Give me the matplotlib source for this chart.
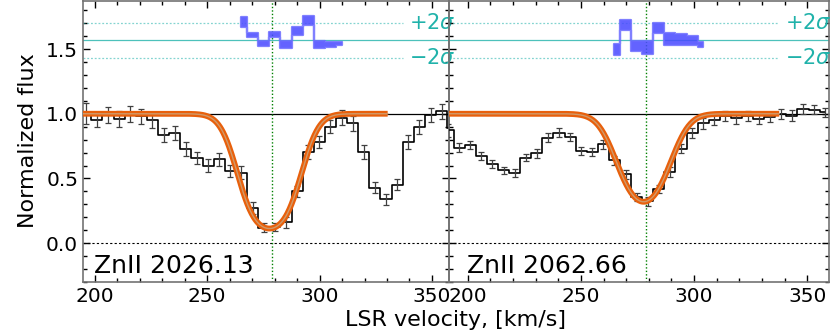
import numpy as np
import matplotlib
matplotlib.use('Agg')
from matplotlib import pyplot as plt
from matplotlib.ticker import MultipleLocator

plt.rcParams['mathtext.fontset'] = 'dejavusans'

# ZnII 2026.13 spectrum (velocity, flux, 1-sigma error)
vel_2026 = [191.0, 195.9, 200.9, 205.8, 210.8, 215.7, 220.7, 225.6, 230.6, 235.5,
            240.5, 245.4, 250.4, 255.3, 260.3, 265.2, 270.2, 275.1, 280.1, 285.0,
            290.0, 294.9, 299.9, 304.8, 309.8, 314.7, 319.7, 324.6, 329.6, 334.5,
            339.5, 344.4, 349.4, 354.3, 359.3]
flux_2026 = [0.98, 1.00, 0.95, 0.99, 0.96, 1.00, 0.98, 0.95, 0.835, 0.855,
             0.73, 0.655, 0.60, 0.65, 0.556, 0.546, 0.273, 0.12, 0.125, 0.16,
             0.40, 0.705, 0.78, 0.90, 0.97, 0.925, 0.705, 0.43, 0.34, 0.45,
             0.78, 0.90, 0.99, 1.02, 0.89]
err_2026 = [0.06, 0.08, 0.05, 0.062, 0.064, 0.062, 0.06, 0.062, 0.057, 0.054,
            0.054, 0.046, 0.048, 0.05, 0.048, 0.048, 0.046, 0.032, 0.03, 0.039,
            0.045, 0.054, 0.046, 0.05, 0.058, 0.055, 0.054, 0.042, 0.042, 0.042,
            0.054, 0.055, 0.054, 0.058, 0.055]

# ZnII 2062.66 spectrum
vel_2062 = [191.3, 196.2, 201.1, 206.0, 210.9, 215.8, 220.7, 225.6, 230.5, 235.4,
            240.3, 245.2, 250.1, 255.0, 259.9, 264.8, 269.7, 274.6, 279.5, 284.4,
            289.3, 294.2, 299.1, 304.0, 308.9, 313.8, 318.7, 323.6, 328.5, 333.4,
            338.3, 343.2, 348.1, 353.0, 357.9]
flux_2062 = [0.873, 0.737, 0.757, 0.675, 0.61, 0.564, 0.543, 0.66, 0.693, 0.814,
             0.855, 0.82, 0.71, 0.705, 0.765, 0.64, 0.533, 0.358, 0.325, 0.42,
             0.55, 0.73, 0.85, 0.925, 0.95, 0.985, 0.965, 0.985, 0.96, 0.975,
             1.00, 0.985, 1.04, 1.03, 1.01]
err_2062 = [0.05, 0.035, 0.031, 0.032, 0.03, 0.028, 0.03, 0.028, 0.033, 0.035,
            0.032, 0.033, 0.032, 0.031, 0.035, 0.033, 0.036, 0.03, 0.035, 0.031,
            0.039, 0.035, 0.039, 0.039, 0.039, 0.039, 0.042, 0.039, 0.039, 0.039,
            0.039, 0.041, 0.039, 0.034, 0.032]

# residuals (shifted to the residual panel level)
res_vel_2026 = [265.2, 270.2, 275.1, 280.1, 285.0, 290.0, 294.9, 299.9, 304.8, 309.8]
res_2026 = [1.71, 1.61, 1.545, 1.615, 1.535, 1.64, 1.72, 1.537, 1.535, 1.545]
res_err_2026 = [0.04, 0.016, 0.019, 0.02, 0.029, 0.033, 0.037, 0.026, 0.016, 0.01]

res_vel_2062 = [264.8, 269.7, 274.6, 279.5, 284.4, 289.3, 294.2, 299.1, 304.0]
res_2062 = [1.495, 1.685, 1.52, 1.513, 1.661, 1.578, 1.572, 1.564, 1.534]
res_err_2062 = [0.044, 0.039, 0.039, 0.048, 0.039, 0.044, 0.044, 0.034, 0.02]

# single-component fit
v_center = 277.7
b_param = 12.7
tau0_2026 = 2.18
tau0_2062 = 1.14
fit_range_2026 = (194.0, 330.3)
fit_range_2062 = (191.0, 337.6)

res_level = 1.568
res_sigma2 = 0.135
v_marker = 278.8

panels = [
    dict(name='ZnII 2026.13', vel=vel_2026, flux=flux_2026, err=err_2026,
         rvel=res_vel_2026, res=res_2026, rerr=res_err_2026, tau0=tau0_2026,
         frange=fit_range_2026, xlim=(194.7, 357.6)),
    dict(name='ZnII 2062.66', vel=vel_2062, flux=flux_2062, err=err_2062,
         rvel=res_vel_2062, res=res_2062, rerr=res_err_2062, tau0=tau0_2062,
         frange=fit_range_2062, xlim=(191.7, 359.6)),
]

fig = plt.figure(figsize=(8.3, 3.32), dpi=100)
ax_l = fig.add_axes([83 / 830, 50 / 332, 366 / 830, 281.5 / 332])
ax_r = fig.add_axes([449 / 830, 50 / 332, 380 / 830, 281.5 / 332], sharey=ax_l)
ax_r.patch.set_visible(False)

teal = '#20b2aa'
for ax, p in zip([ax_l, ax_r], panels):
    v = np.array(p['vel'])
    f = np.array(p['flux'])
    e = np.array(p['err'])
    ax.step(v, f, where='mid', color='k', lw=1.2, zorder=3)
    ax.errorbar(v, f, yerr=e, fmt='none', ecolor='0.25', elinewidth=0.9,
                capsize=2.5, capthick=0.9, zorder=3)

    # model
    vm = np.linspace(p['frange'][0], p['frange'][1], 600)
    model = np.exp(-p['tau0'] * np.exp(-((vm - v_center) / b_param) ** 2))
    ax.plot(vm, model, color='#e8600c', lw=4.2, zorder=4, solid_capstyle='butt')
    ax.plot(vm, model, color='#d09a6a', lw=1.0, zorder=5)

    # residuals
    rv = np.array(p['rvel'])
    r = np.array(p['res'])
    re = np.array(p['rerr'])
    ax.fill_between(rv, r - re, r + re, step='mid', facecolor='#4848ff',
                    edgecolor='#6a6aff', lw=1.6, alpha=0.85, zorder=4)

    ax.axhline(1.0, color='k', lw=0.9, zorder=2)
    ax.axhline(0.0, color='k', lw=0.8, ls=(0, (2, 2)), zorder=2)
    ax.axhline(res_level, color=teal, lw=0.9, alpha=0.8, zorder=2)
    for s in (1, -1):
        ax.plot([p['xlim'][0], 337.0], [res_level + s * res_sigma2] * 2,
                color=teal, lw=0.9, ls=(0, (1.5, 1.5)), alpha=0.55, zorder=2)
    ax.text(340.0, res_level + res_sigma2, r'$+2\sigma$', color=teal, fontsize=15,
            va='center', ha='left', clip_on=False, zorder=6)
    ax.text(340.0, res_level - res_sigma2, r'$-2\sigma$', color=teal, fontsize=15,
            va='center', ha='left', clip_on=False, zorder=6)
    ax.axvline(v_marker, color='green', lw=1.0, ls=(0, (1, 1.5)), zorder=2)

    ax.text(199.5, -0.232, p['name'], fontsize=18, va='baseline', ha='left')

    ax.set_xlim(*p['xlim'])
    ax.set_ylim(-0.3, 1.875)
    ax.xaxis.set_major_locator(MultipleLocator(50))
    ax.xaxis.set_minor_locator(MultipleLocator(10))
    ax.yaxis.set_major_locator(MultipleLocator(0.5))
    ax.yaxis.set_minor_locator(MultipleLocator(0.1))
    ax.tick_params(which='both', direction='in', top=True, right=True,
                   labelsize=14.5, width=1.0)
    ax.tick_params(which='major', length=5)
    ax.tick_params(which='minor', length=3)
    for sp in ax.spines.values():
        sp.set_color('0.45')
        sp.set_linewidth(1.2)

ax_r.tick_params(labelleft=False)

fig.text(28 / 830, 1 - 141 / 332, 'Normalized flux', rotation=90,
         fontsize=16, va='center', ha='center')
fig.text(455 / 830, 1 - 325.5 / 332, 'LSR velocity, [km/s]', fontsize=16,
         va='baseline', ha='center')

fig.savefig('out.png', dpi=100)
